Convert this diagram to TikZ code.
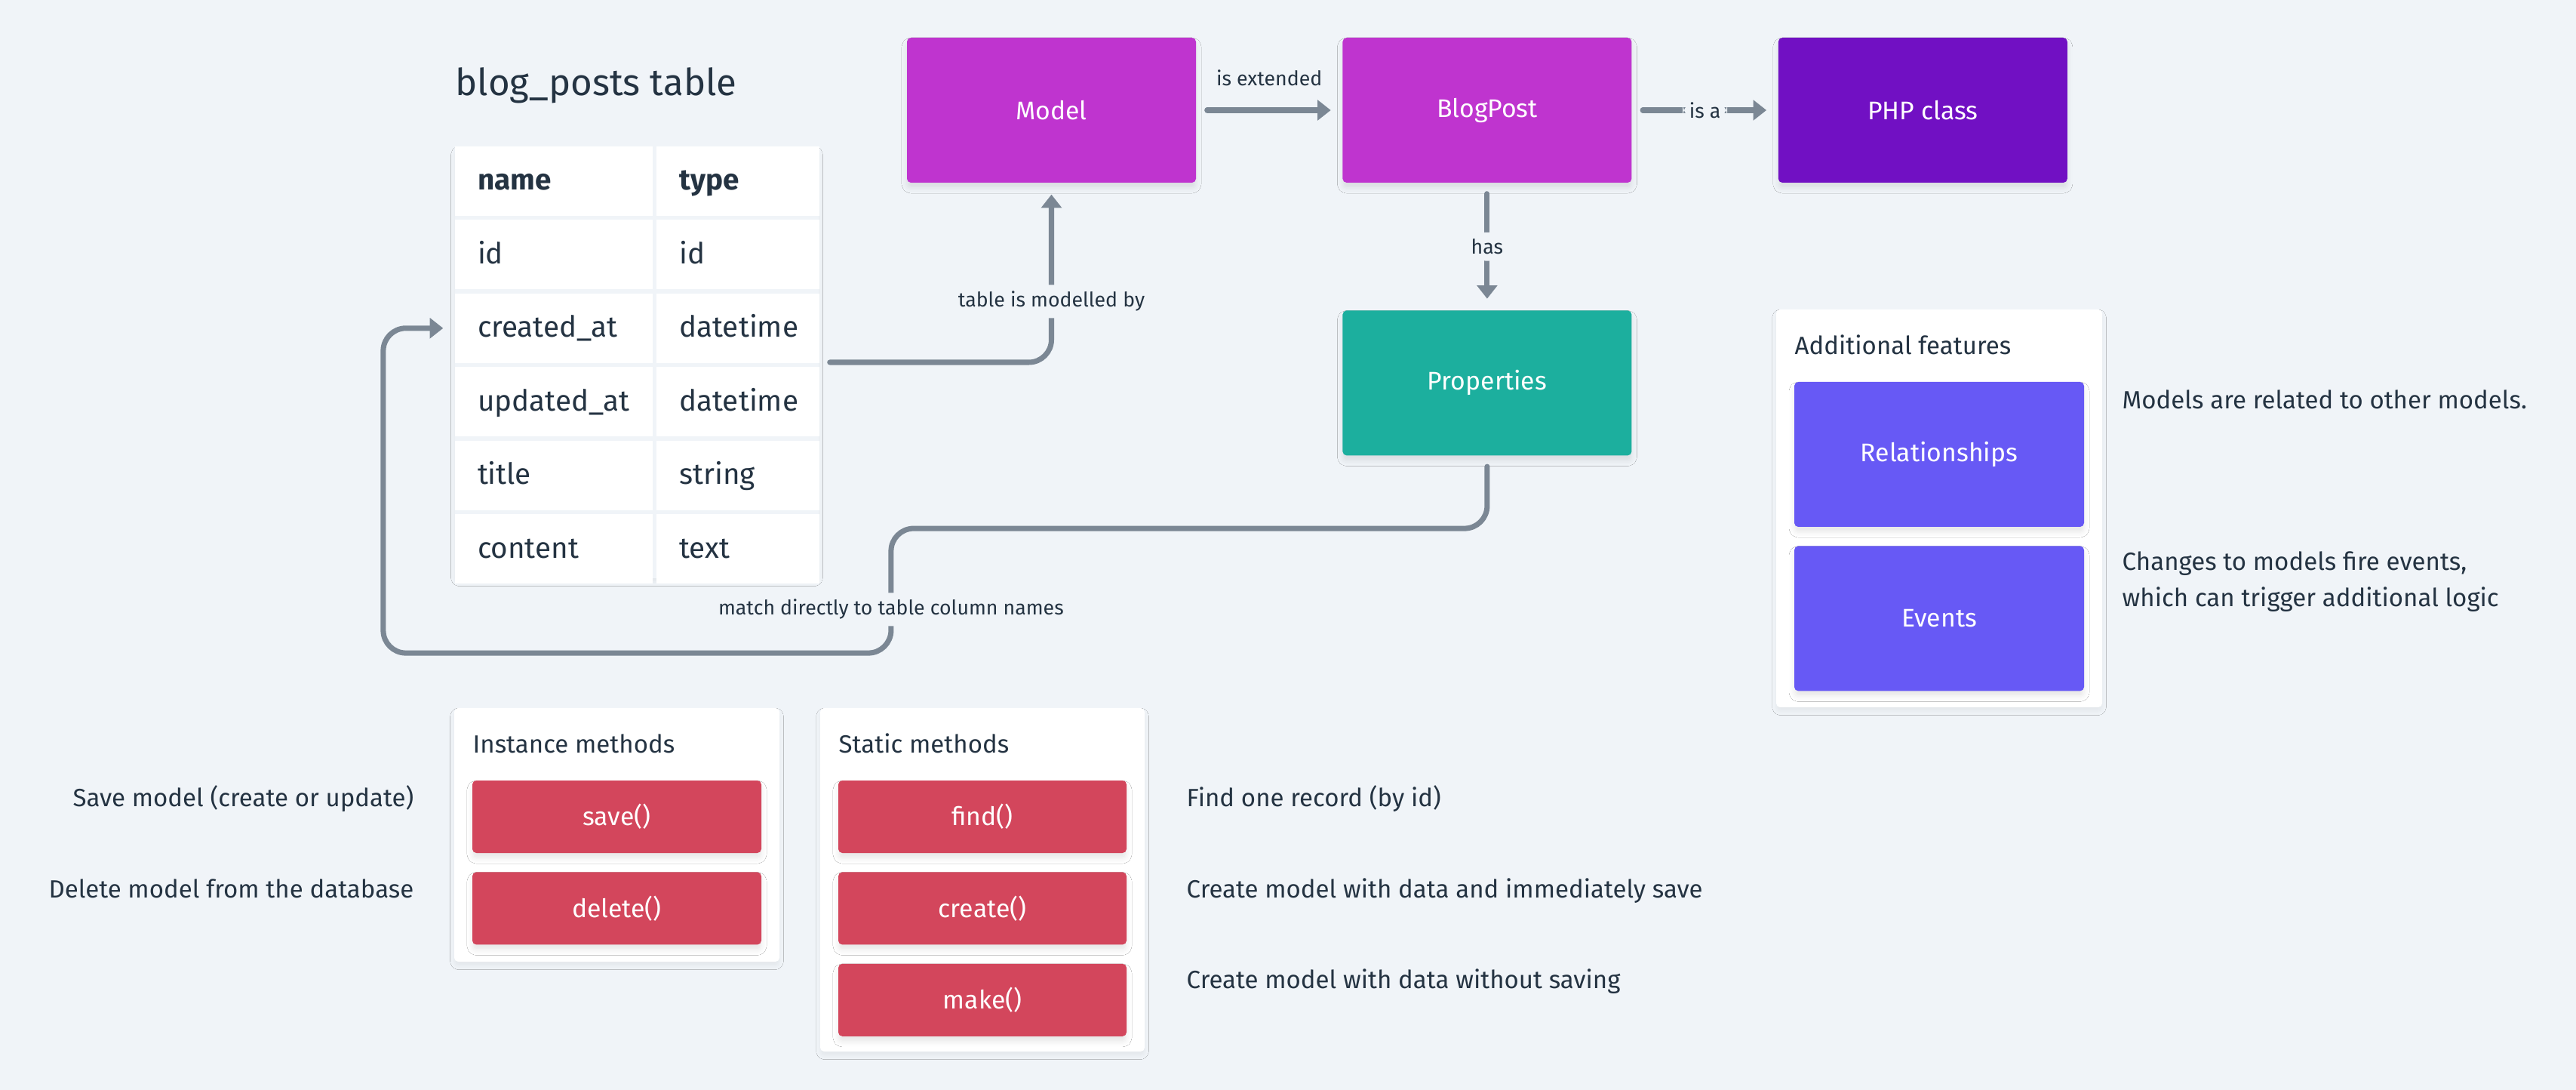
\documentclass[tikz,border=0pt]{standalone}
\usepackage{fontspec}
\setmainfont{Fira Sans}
\usetikzlibrary{arrows.meta,positioning,shadows.blur}

\definecolor{canvas}{HTML}{F0F4F8}
\definecolor{ink}{HTML}{243342}
\definecolor{wire}{HTML}{7B8794}
\definecolor{modelpink}{HTML}{BF34CF}
\definecolor{phppurple}{HTML}{7110C3}
\definecolor{propteal}{HTML}{1CAF9E}
\definecolor{featureblue}{HTML}{6759F5}
\definecolor{methodred}{HTML}{D3465C}

\newcommand\notesize{\fontsize{9.4}{11.5}\selectfont}
\newcommand\boxsize{\fontsize{9.6}{11.5}\selectfont}
\newcommand\cellsize{\fontsize{11}{13}\selectfont}
\newcommand\titlesize{\fontsize{14}{16}\selectfont}
\newcommand\linksize{\fontsize{7.6}{9}\selectfont}

\begin{document}
\begin{tikzpicture}[
node distance=1.93cm,
box/.style={rectangle, rounded corners=1.5pt, minimum width=3.83cm, minimum height=1.92cm, text=white, font=\boxsize, blur shadow={shadow xshift=0pt, shadow yshift=-2pt, shadow blur radius=2pt, shadow opacity=9}},
method/.style={box, fill=methodred, minimum height=0.96cm},
panel/.style={rectangle, fill=white, rounded corners=1.5pt, inner sep=0pt, blur shadow={shadow xshift=0pt, shadow yshift=-1.5pt, shadow blur radius=1.5pt, shadow opacity=5}},
namecell/.style={rectangle, fill=white, minimum height=0.92cm, text width=2.02cm, inner xsep=0.3cm, align=left, text height=0.3cm, text depth=0.06cm, font=\cellsize, text=ink},
typecell/.style={namecell, text width=1.56cm},
arrow/.style={draw=wire, line width=2pt, line cap=round, rounded corners=0.3cm, -{Triangle[length=5pt,width=7.5pt]}, shorten <=0.14cm, shorten >=0.15cm},
linklabel/.style={fill=canvas, text=ink, font=\linksize, inner sep=2.5pt},
note/.style={text=ink, font=\notesize, inner sep=0pt}
]

\fill[canvas] (0,0) rectangle (34.14,-14.44);

% class chain
\node[box, fill=modelpink] (model) at (13.935,-1.46) {Model};
\node[box, fill=modelpink, right=of model] (blogpost) {BlogPost};
\node[box, fill=phppurple, right=of blogpost] (phpclass) {PHP class};
\node[box, fill=propteal, below=1.68cm of blogpost] (props) {Properties};

% blog_posts table
\node[note, font=\titlesize, anchor=base west] (tabletitle) at (6.03,-1.27) {blog\_posts table};
\node[panel, fill=canvas, minimum width=4.82cm, minimum height=5.72cm] (posts) at (8.44,-4.80) {};

\node[namecell, font=\cellsize\bfseries, anchor=north west] (hname) at (posts.north west) {name};
\node[typecell, font=\cellsize\bfseries, right=0.04cm of hname] (htype) {type};
\node[namecell, below=0.04cm of hname] (nid) {id};
\node[typecell, right=0.04cm of nid] (tid) {id};
\node[namecell, below=0.04cm of nid] (ncreated) {created\_at};
\node[typecell, right=0.04cm of ncreated] (tcreated) {datetime};
\node[namecell, below=0.04cm of ncreated] (nupdated) {updated\_at};
\node[typecell, right=0.04cm of nupdated] (tupdated) {datetime};
\node[namecell, below=0.04cm of nupdated] (ntitle) {title};
\node[typecell, right=0.04cm of ntitle] (ttitle) {string};
\node[namecell, below=0.04cm of ntitle] (ncontent) {content};
\node[typecell, right=0.04cm of ncontent] (tcontent) {text};

% additional features
\node[panel, minimum width=4.32cm, minimum height=5.27cm] (features) at (25.70,-6.735) {};
\node[note, anchor=base west] (featurestitle) at (23.78,-4.70) {Additional features};
\node[box, fill=featureblue, minimum width=3.84cm] (relations) at (25.70,-6.02) {Relationships};
\node[box, fill=featureblue, minimum width=3.84cm, below=0.24cm of relations] (events) {Events};
\node[note, anchor=base west] (relationsnote) at (28.12,-5.42) {Models are related to other models.};
\node[note, font=\fontsize{9.4}{13.7}\selectfont, anchor=north west, align=left] (eventsnote) at (28.12,-7.30) {Changes to models fire events,\\which can trigger additional logic};

% instance methods
\node[panel, minimum width=4.31cm, minimum height=3.36cm] (instance) at (8.175,-11.06) {};
\node[note, anchor=base west] (instancetitle) at (6.26,-9.98) {Instance methods};
\node[method] (save) at (8.175,-10.82) {save()};
\node[method, below=0.24cm of save] (delete) {delete()};
\node[note, anchor=base east] (savenote) at (5.49,-10.68) {Save model (create or update)};
\node[note, anchor=base east] (deletenote) at (5.49,-11.89) {Delete model from the database};

% static methods
\node[panel, minimum width=4.30cm, minimum height=4.55cm] (static) at (13.02,-11.655) {};
\node[note, anchor=base west] (statictitle) at (11.11,-9.98) {Static methods};
\node[method, minimum width=3.82cm] (find) at (13.02,-10.82) {find()};
\node[method, minimum width=3.82cm, below=0.24cm of find] (create) {create()};
\node[method, minimum width=3.82cm, below=0.24cm of create] (make) {make()};
\node[note, anchor=base west] (findnote) at (15.72,-10.69) {Find one record (by id)};
\node[note, anchor=base west] (createnote) at (15.72,-11.89) {Create model with data and immediately save};
\node[note, anchor=base west] (makenote) at (15.72,-13.09) {Create model with data without saving};

% connectors
\draw[arrow] (model) -- node[linklabel, fill=none, above=0.2cm] {is extended} (blogpost);
\draw[arrow] (blogpost) -- node[linklabel] {is a} (phpclass);
\draw[arrow] (blogpost) -- node[linklabel] {has} (props);
\draw[arrow] (posts) -| node[linklabel, pos=0.67] {table is modelled by} (model);
\draw[arrow] (props.south) -- ++(0,-0.96) -- ++(-7.90,0) -- ++(0,-1.65) node[linklabel, pos=0.65] {match directly to table column names} -- ++(-6.73,0) |- (ncreated);

\end{tikzpicture}
\end{document}
